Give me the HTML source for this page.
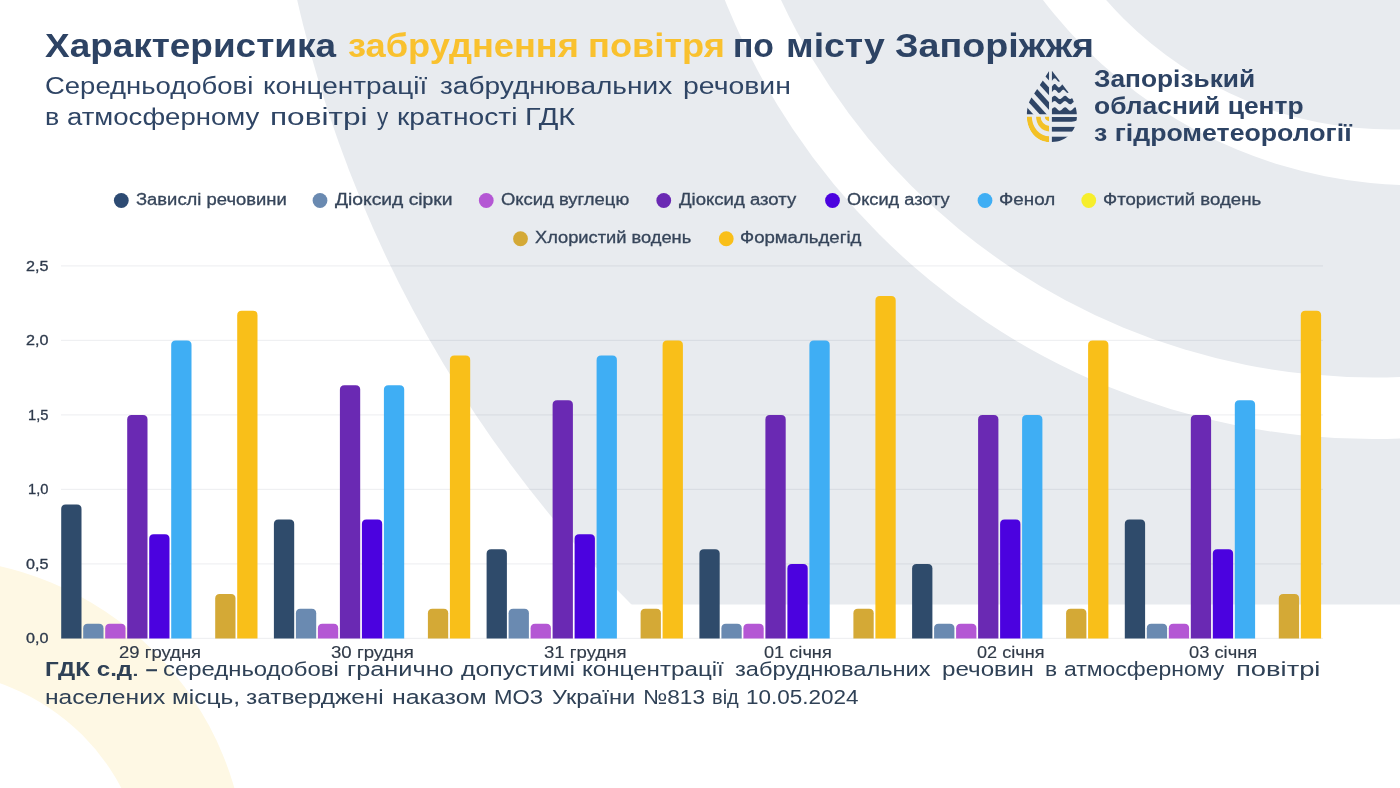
<!DOCTYPE html>
<html lang="uk"><head><meta charset="utf-8"><title>Характеристика забруднення повітря по місту Запоріжжя</title>
<style>
html,body{margin:0;padding:0}
body{width:1400px;height:788px;overflow:hidden;background:#fff;position:relative;font-family:"Liberation Sans",sans-serif}
#bg{position:absolute;left:0;top:0}
.t{position:absolute;white-space:pre;line-height:1;transform-origin:0 0}
</style></head><body>

<svg id="bg" width="1400" height="788" viewBox="0 0 1400 788">
<defs><clipPath id="cg"><rect x="0" y="0" width="1400" height="604.6"/></clipPath></defs>
<circle cx="-70.3" cy="875.2" r="316.9" fill="#fef8e4"/>
<circle cx="-72.4" cy="889.9" r="218.9" fill="#fff"/>
<g clip-path="url(#cg)">
<circle cx="1512" cy="-277" r="1246" fill="#e8ebef"/>
<circle cx="1373" cy="-259" r="698" fill="#fff"/>
<circle cx="1374" cy="-277" r="654.5" fill="#e8ebef"/>
<circle cx="1416.4" cy="-283.6" r="468.9" fill="#fff"/>
<circle cx="1392.1" cy="-250.7" r="380.3" fill="#e8ebef"/>
</g>
<rect x="61" y="265.3" width="1262" height="1.2" fill="rgba(40,55,80,0.075)"/>
<rect x="61" y="339.8" width="1262" height="1.2" fill="rgba(40,55,80,0.075)"/>
<rect x="61" y="414.3" width="1262" height="1.2" fill="rgba(40,55,80,0.075)"/>
<rect x="61" y="488.8" width="1262" height="1.2" fill="rgba(40,55,80,0.075)"/>
<rect x="61" y="563.3" width="1262" height="1.2" fill="rgba(40,55,80,0.075)"/>
<rect x="61" y="637.8" width="1262" height="1.2" fill="rgba(40,55,80,0.075)"/>
<path d="M61.2 638.6V509.0q0 -4.5 4.5 -4.5h11.3q4.5 0 4.5 4.5V638.6z" fill="#2f4b6b" stroke="none" stroke-width="1"/>
<path d="M83.2 638.6V628.2q0 -4.5 4.5 -4.5h11.3q4.5 0 4.5 4.5V638.6z" fill="#6a8ab1" stroke="none" stroke-width="1"/>
<path d="M105.2 638.6V628.2q0 -4.5 4.5 -4.5h11.3q4.5 0 4.5 4.5V638.6z" fill="#b457d4" stroke="none" stroke-width="1"/>
<path d="M127.2 638.6V419.6q0 -4.5 4.5 -4.5h11.3q4.5 0 4.5 4.5V638.6z" fill="#6a29b3" stroke="none" stroke-width="1"/>
<path d="M149.2 638.6V538.8q0 -4.5 4.5 -4.5h11.3q4.5 0 4.5 4.5V638.6z" fill="#4b02df" stroke="none" stroke-width="1"/>
<path d="M171.2 638.6V345.1q0 -4.5 4.5 -4.5h11.3q4.5 0 4.5 4.5V638.6z" fill="#3faef4" stroke="none" stroke-width="1"/>
<path d="M215.2 638.6V598.4q0 -4.5 4.5 -4.5h11.3q4.5 0 4.5 4.5V638.6z" fill="#d4a936" stroke="none" stroke-width="1"/>
<path d="M237.2 638.6V315.3q0 -4.5 4.5 -4.5h11.3q4.5 0 4.5 4.5V638.6z" fill="#f9bf19" stroke="none" stroke-width="1"/>
<path d="M273.9 638.6V523.9q0 -4.5 4.5 -4.5h11.3q4.5 0 4.5 4.5V638.6z" fill="#2f4b6b" stroke="none" stroke-width="1"/>
<path d="M295.9 638.6V613.3q0 -4.5 4.5 -4.5h11.3q4.5 0 4.5 4.5V638.6z" fill="#6a8ab1" stroke="none" stroke-width="1"/>
<path d="M317.9 638.6V628.2q0 -4.5 4.5 -4.5h11.3q4.5 0 4.5 4.5V638.6z" fill="#b457d4" stroke="none" stroke-width="1"/>
<path d="M339.9 638.6V389.8q0 -4.5 4.5 -4.5h11.3q4.5 0 4.5 4.5V638.6z" fill="#6a29b3" stroke="none" stroke-width="1"/>
<path d="M361.9 638.6V523.9q0 -4.5 4.5 -4.5h11.3q4.5 0 4.5 4.5V638.6z" fill="#4b02df" stroke="none" stroke-width="1"/>
<path d="M383.9 638.6V389.8q0 -4.5 4.5 -4.5h11.3q4.5 0 4.5 4.5V638.6z" fill="#3faef4" stroke="none" stroke-width="1"/>
<path d="M427.9 638.6V613.3q0 -4.5 4.5 -4.5h11.3q4.5 0 4.5 4.5V638.6z" fill="#d4a936" stroke="none" stroke-width="1"/>
<path d="M449.9 638.6V360.0q0 -4.5 4.5 -4.5h11.3q4.5 0 4.5 4.5V638.6z" fill="#f9bf19" stroke="none" stroke-width="1"/>
<path d="M486.6 638.6V553.7q0 -4.5 4.5 -4.5h11.3q4.5 0 4.5 4.5V638.6z" fill="#2f4b6b" stroke="none" stroke-width="1"/>
<path d="M508.6 638.6V613.3q0 -4.5 4.5 -4.5h11.3q4.5 0 4.5 4.5V638.6z" fill="#6a8ab1" stroke="none" stroke-width="1"/>
<path d="M530.6 638.6V628.2q0 -4.5 4.5 -4.5h11.3q4.5 0 4.5 4.5V638.6z" fill="#b457d4" stroke="none" stroke-width="1"/>
<path d="M552.6 638.6V404.7q0 -4.5 4.5 -4.5h11.3q4.5 0 4.5 4.5V638.6z" fill="#6a29b3" stroke="none" stroke-width="1"/>
<path d="M574.6 638.6V538.8q0 -4.5 4.5 -4.5h11.3q4.5 0 4.5 4.5V638.6z" fill="#4b02df" stroke="none" stroke-width="1"/>
<path d="M596.6 638.6V360.0q0 -4.5 4.5 -4.5h11.3q4.5 0 4.5 4.5V638.6z" fill="#3faef4" stroke="none" stroke-width="1"/>
<path d="M640.6 638.6V613.3q0 -4.5 4.5 -4.5h11.3q4.5 0 4.5 4.5V638.6z" fill="#d4a936" stroke="none" stroke-width="1"/>
<path d="M662.6 638.6V345.1q0 -4.5 4.5 -4.5h11.3q4.5 0 4.5 4.5V638.6z" fill="#f9bf19" stroke="none" stroke-width="1"/>
<path d="M699.4 638.6V553.7q0 -4.5 4.5 -4.5h11.3q4.5 0 4.5 4.5V638.6z" fill="#2f4b6b" stroke="none" stroke-width="1"/>
<path d="M721.4 638.6V628.2q0 -4.5 4.5 -4.5h11.3q4.5 0 4.5 4.5V638.6z" fill="#6a8ab1" stroke="none" stroke-width="1"/>
<path d="M743.4 638.6V628.2q0 -4.5 4.5 -4.5h11.3q4.5 0 4.5 4.5V638.6z" fill="#b457d4" stroke="none" stroke-width="1"/>
<path d="M765.4 638.6V419.6q0 -4.5 4.5 -4.5h11.3q4.5 0 4.5 4.5V638.6z" fill="#6a29b3" stroke="none" stroke-width="1"/>
<path d="M787.4 638.6V568.6q0 -4.5 4.5 -4.5h11.3q4.5 0 4.5 4.5V638.6z" fill="#4b02df" stroke="none" stroke-width="1"/>
<path d="M809.4 638.6V345.1q0 -4.5 4.5 -4.5h11.3q4.5 0 4.5 4.5V638.6z" fill="#3faef4" stroke="none" stroke-width="1"/>
<path d="M853.4 638.6V613.3q0 -4.5 4.5 -4.5h11.3q4.5 0 4.5 4.5V638.6z" fill="#d4a936" stroke="none" stroke-width="1"/>
<path d="M875.4 638.6V300.4q0 -4.5 4.5 -4.5h11.3q4.5 0 4.5 4.5V638.6z" fill="#f9bf19" stroke="none" stroke-width="1"/>
<path d="M912.1 638.6V568.6q0 -4.5 4.5 -4.5h11.3q4.5 0 4.5 4.5V638.6z" fill="#2f4b6b" stroke="none" stroke-width="1"/>
<path d="M934.1 638.6V628.2q0 -4.5 4.5 -4.5h11.3q4.5 0 4.5 4.5V638.6z" fill="#6a8ab1" stroke="none" stroke-width="1"/>
<path d="M956.1 638.6V628.2q0 -4.5 4.5 -4.5h11.3q4.5 0 4.5 4.5V638.6z" fill="#b457d4" stroke="none" stroke-width="1"/>
<path d="M978.1 638.6V419.6q0 -4.5 4.5 -4.5h11.3q4.5 0 4.5 4.5V638.6z" fill="#6a29b3" stroke="none" stroke-width="1"/>
<path d="M1000.1 638.6V523.9q0 -4.5 4.5 -4.5h11.3q4.5 0 4.5 4.5V638.6z" fill="#4b02df" stroke="none" stroke-width="1"/>
<path d="M1022.1 638.6V419.6q0 -4.5 4.5 -4.5h11.3q4.5 0 4.5 4.5V638.6z" fill="#3faef4" stroke="none" stroke-width="1"/>
<path d="M1066.1 638.6V613.3q0 -4.5 4.5 -4.5h11.3q4.5 0 4.5 4.5V638.6z" fill="#d4a936" stroke="none" stroke-width="1"/>
<path d="M1088.1 638.6V345.1q0 -4.5 4.5 -4.5h11.3q4.5 0 4.5 4.5V638.6z" fill="#f9bf19" stroke="none" stroke-width="1"/>
<path d="M1124.8 638.6V523.9q0 -4.5 4.5 -4.5h11.3q4.5 0 4.5 4.5V638.6z" fill="#2f4b6b" stroke="none" stroke-width="1"/>
<path d="M1146.8 638.6V628.2q0 -4.5 4.5 -4.5h11.3q4.5 0 4.5 4.5V638.6z" fill="#6a8ab1" stroke="none" stroke-width="1"/>
<path d="M1168.8 638.6V628.2q0 -4.5 4.5 -4.5h11.3q4.5 0 4.5 4.5V638.6z" fill="#b457d4" stroke="none" stroke-width="1"/>
<path d="M1190.8 638.6V419.6q0 -4.5 4.5 -4.5h11.3q4.5 0 4.5 4.5V638.6z" fill="#6a29b3" stroke="none" stroke-width="1"/>
<path d="M1212.8 638.6V553.7q0 -4.5 4.5 -4.5h11.3q4.5 0 4.5 4.5V638.6z" fill="#4b02df" stroke="none" stroke-width="1"/>
<path d="M1234.8 638.6V404.7q0 -4.5 4.5 -4.5h11.3q4.5 0 4.5 4.5V638.6z" fill="#3faef4" stroke="none" stroke-width="1"/>
<path d="M1278.8 638.6V598.4q0 -4.5 4.5 -4.5h11.3q4.5 0 4.5 4.5V638.6z" fill="#d4a936" stroke="none" stroke-width="1"/>
<path d="M1300.8 638.6V315.3q0 -4.5 4.5 -4.5h11.3q4.5 0 4.5 4.5V638.6z" fill="#f9bf19" stroke="none" stroke-width="1"/>
<circle cx="121.30" cy="200.5" r="7.4" fill="#2d4b73"/>
<circle cx="320.00" cy="200.5" r="7.4" fill="#6a8ab1"/>
<circle cx="486.25" cy="200.5" r="7.4" fill="#b457d4"/>
<circle cx="663.75" cy="200.5" r="7.4" fill="#6a29b3"/>
<circle cx="832.50" cy="200.5" r="7.4" fill="#4b02df"/>
<circle cx="985.00" cy="200.5" r="7.4" fill="#3faef4"/>
<circle cx="1088.75" cy="200.5" r="7.4" fill="#f6ee2c"/>
<circle cx="520.50" cy="238.75" r="7.4" fill="#d4a936"/>
<circle cx="726.25" cy="238.75" r="7.4" fill="#f9bf19"/>
<g id="logo">
<defs>
<clipPath id="lL"><path d="M1049.3 70.7 L1031.2 97.9 C1029 101.2 1026.9 108 1026.9 114.2 V116.4 C1026.9 131 1037 142 1049.3 142 Z"/></clipPath>
<clipPath id="lR"><path d="M1051.9 70.7 L1068.5 92.4 C1072 97 1076.9 106 1076.9 116 C1076.9 131 1066 142 1051.9 142 Z"/></clipPath>
<clipPath id="lLT"><rect x="1020" y="60" width="29.299999999999955" height="54.2"/></clipPath>
<clipPath id="lLB"><rect x="1020" y="116.4" width="29.299999999999955" height="30"/></clipPath>
</defs>
<g clip-path="url(#lL)"><g clip-path="url(#lLT)" fill="#2f4566">
<path d="M1049.3 55.00 L1009.3 11.00 L1009.3 36.80 L1049.3 80.80 Z"/>
<path d="M1049.3 87.80 L1009.3 43.80 L1009.3 51.50 L1049.3 95.50 Z"/>
<path d="M1049.3 102.50 L1009.3 58.50 L1009.3 66.20 L1049.3 110.20 Z"/>
<path d="M1049.3 117.20 L1009.3 73.20 L1009.3 80.90 L1049.3 124.90 Z"/>
<path d="M1049.3 131.90 L1009.3 87.90 L1009.3 95.60 L1049.3 139.60 Z"/>
</g>
<g clip-path="url(#lLB)" fill="#f3c126">
<path d="M1026.70 116.4 A22.6 25.8 0 0 0 1049.3 142.20 L1049.3 136.20 A17.5 19.8 0 0 1 1031.80 116.4 Z"/>
<path d="M1036.10 116.4 A13.2 15.0 0 0 0 1049.3 131.40 L1049.3 125.90 A8.7 9.5 0 0 1 1040.60 116.4 Z"/>
<path d="M1044.80 116.4 A4.5 4.9 0 0 0 1049.3 121.30 L1049.3 116.4 Z"/>
</g></g>
<g clip-path="url(#lR)" fill="#2f4566">
<path d="M1051.40 60.00 L1051.90 60.00 L1052.40 60.00 L1052.90 60.00 L1053.40 60.00 L1053.90 60.00 L1054.40 60.00 L1054.90 60.00 L1055.40 60.00 L1055.90 60.00 L1056.40 60.00 L1056.90 60.00 L1057.40 60.00 L1057.90 60.00 L1058.40 60.00 L1058.90 60.00 L1059.40 60.00 L1059.90 60.00 L1060.40 60.00 L1060.90 60.00 L1061.40 60.00 L1061.90 60.00 L1062.40 60.00 L1062.90 60.00 L1063.40 60.00 L1063.90 60.00 L1064.40 60.00 L1064.90 60.00 L1065.40 60.00 L1065.90 60.00 L1066.40 60.00 L1066.90 60.00 L1067.40 60.00 L1067.90 60.00 L1068.40 60.00 L1068.90 60.00 L1069.40 60.00 L1069.90 60.00 L1070.40 60.00 L1070.90 60.00 L1071.40 60.00 L1071.90 60.00 L1072.40 60.00 L1072.90 60.00 L1073.40 60.00 L1073.90 60.00 L1074.40 60.00 L1074.90 60.00 L1075.40 60.00 L1075.90 60.00 L1076.40 60.00 L1076.90 60.00 L1077.40 60.00 L1077.90 60.00 L1078.40 60.00 L1078.90 60.00 L1079.40 60.00 L1079.90 60.00 L1080.40 60.00 L1080.90 60.00 L1080.90 78.42 L1080.40 78.35 L1079.90 78.51 L1079.40 78.85 L1078.90 79.35 L1078.40 79.94 L1077.90 80.53 L1077.40 81.06 L1076.90 81.44 L1076.40 81.63 L1075.90 81.61 L1075.40 81.38 L1074.90 80.96 L1074.40 80.42 L1073.90 79.82 L1073.40 79.25 L1072.90 78.77 L1072.40 78.46 L1071.90 78.35 L1071.40 78.46 L1070.90 78.77 L1070.40 79.25 L1069.90 79.82 L1069.40 80.42 L1068.90 80.96 L1068.40 81.38 L1067.90 81.61 L1067.40 81.63 L1066.90 81.44 L1066.40 81.06 L1065.90 80.53 L1065.40 79.94 L1064.90 79.35 L1064.40 78.85 L1063.90 78.51 L1063.40 78.35 L1062.90 78.42 L1062.40 78.69 L1061.90 79.14 L1061.40 79.70 L1060.90 80.30 L1060.40 80.86 L1059.90 81.31 L1059.40 81.58 L1058.90 81.65 L1058.40 81.49 L1057.90 81.15 L1057.40 80.65 L1056.90 80.06 L1056.40 79.47 L1055.90 78.94 L1055.40 78.56 L1054.90 78.37 L1054.40 78.39 L1053.90 78.62 L1053.40 79.04 L1052.90 79.58 L1052.40 80.18 L1051.90 80.75 L1051.40 81.23 Z"/>
<path d="M1051.40 86.97 L1051.90 86.48 L1052.40 85.89 L1052.90 85.27 L1053.40 84.71 L1053.90 84.28 L1054.40 84.04 L1054.90 84.02 L1055.40 84.22 L1055.90 84.61 L1056.40 85.15 L1056.90 85.76 L1057.40 86.36 L1057.90 86.88 L1058.40 87.24 L1058.90 87.40 L1059.40 87.33 L1059.90 87.05 L1060.40 86.59 L1060.90 86.01 L1061.40 85.39 L1061.90 84.81 L1062.40 84.35 L1062.90 84.07 L1063.40 84.00 L1063.90 84.16 L1064.40 84.52 L1064.90 85.04 L1065.40 85.64 L1065.90 86.25 L1066.40 86.79 L1066.90 87.18 L1067.40 87.38 L1067.90 87.36 L1068.40 87.12 L1068.90 86.69 L1069.40 86.13 L1069.90 85.51 L1070.40 84.92 L1070.90 84.43 L1071.40 84.11 L1071.90 84.00 L1072.40 84.11 L1072.90 84.43 L1073.40 84.92 L1073.90 85.51 L1074.40 86.13 L1074.90 86.69 L1075.40 87.12 L1075.90 87.36 L1076.40 87.38 L1076.90 87.18 L1077.40 86.79 L1077.90 86.25 L1078.40 85.64 L1078.90 85.04 L1079.40 84.52 L1079.90 84.16 L1080.40 84.00 L1080.90 84.07 L1080.90 89.77 L1080.40 89.70 L1079.90 89.85 L1079.40 90.19 L1078.90 90.67 L1078.40 91.24 L1077.90 91.82 L1077.40 92.32 L1076.90 92.70 L1076.40 92.88 L1075.90 92.86 L1075.40 92.63 L1074.90 92.23 L1074.40 91.70 L1073.90 91.13 L1073.40 90.57 L1072.90 90.11 L1072.40 89.81 L1071.90 89.70 L1071.40 89.81 L1070.90 90.11 L1070.40 90.57 L1069.90 91.13 L1069.40 91.70 L1068.90 92.23 L1068.40 92.63 L1067.90 92.86 L1067.40 92.88 L1066.90 92.70 L1066.40 92.32 L1065.90 91.82 L1065.40 91.24 L1064.90 90.67 L1064.40 90.19 L1063.90 89.85 L1063.40 89.70 L1062.90 89.77 L1062.40 90.03 L1061.90 90.47 L1061.40 91.01 L1060.90 91.59 L1060.40 92.13 L1059.90 92.57 L1059.40 92.83 L1058.90 92.90 L1058.40 92.75 L1057.90 92.41 L1057.40 91.93 L1056.90 91.36 L1056.40 90.78 L1055.90 90.28 L1055.40 89.90 L1054.90 89.72 L1054.40 89.74 L1053.90 89.97 L1053.40 90.37 L1052.90 90.90 L1052.40 91.47 L1051.90 92.03 L1051.40 92.49 Z"/>
<path d="M1051.40 97.97 L1051.90 97.50 L1052.40 97.02 L1052.90 96.57 L1053.40 96.20 L1053.90 95.94 L1054.40 95.81 L1054.90 95.83 L1055.40 95.98 L1055.90 96.27 L1056.40 96.66 L1056.90 97.11 L1057.40 97.59 L1057.90 98.06 L1058.40 98.46 L1058.90 98.77 L1059.40 98.95 L1059.90 99.00 L1060.40 98.90 L1060.90 98.66 L1061.40 98.31 L1061.90 97.88 L1062.40 97.40 L1062.90 96.92 L1063.40 96.49 L1063.90 96.14 L1064.40 95.90 L1064.90 95.80 L1065.40 95.85 L1065.90 96.03 L1066.40 96.34 L1066.90 96.74 L1067.40 97.21 L1067.90 97.69 L1068.40 98.14 L1068.90 98.53 L1069.40 98.82 L1069.90 98.97 L1070.40 98.99 L1070.90 98.86 L1071.40 98.60 L1071.90 98.23 L1072.40 97.78 L1072.90 97.30 L1073.40 96.83 L1073.90 96.41 L1074.40 96.08 L1074.90 95.87 L1075.40 95.80 L1075.90 95.87 L1076.40 96.08 L1076.90 96.41 L1077.40 96.83 L1077.90 97.30 L1078.40 97.78 L1078.90 98.23 L1079.40 98.60 L1079.90 98.86 L1080.40 98.99 L1080.90 98.97 L1080.90 104.27 L1080.40 104.29 L1079.90 104.16 L1079.40 103.90 L1078.90 103.53 L1078.40 103.08 L1077.90 102.60 L1077.40 102.13 L1076.90 101.71 L1076.40 101.38 L1075.90 101.17 L1075.40 101.10 L1074.90 101.17 L1074.40 101.38 L1073.90 101.71 L1073.40 102.13 L1072.90 102.60 L1072.40 103.08 L1071.90 103.53 L1071.40 103.90 L1070.90 104.16 L1070.40 104.29 L1069.90 104.27 L1069.40 104.12 L1068.90 103.83 L1068.40 103.44 L1067.90 102.99 L1067.40 102.51 L1066.90 102.04 L1066.40 101.64 L1065.90 101.33 L1065.40 101.15 L1064.90 101.10 L1064.40 101.20 L1063.90 101.44 L1063.40 101.79 L1062.90 102.22 L1062.40 102.70 L1061.90 103.18 L1061.40 103.61 L1060.90 103.96 L1060.40 104.20 L1059.90 104.30 L1059.40 104.25 L1058.90 104.07 L1058.40 103.76 L1057.90 103.36 L1057.40 102.89 L1056.90 102.41 L1056.40 101.96 L1055.90 101.57 L1055.40 101.28 L1054.90 101.13 L1054.40 101.11 L1053.90 101.24 L1053.40 101.50 L1052.90 101.87 L1052.40 102.32 L1051.90 102.80 L1051.40 103.27 Z"/>
<path d="M1051.40 109.60 L1051.90 109.10 L1052.40 108.59 L1052.90 108.12 L1053.40 107.73 L1053.90 107.45 L1054.40 107.31 L1054.90 107.33 L1055.40 107.49 L1055.90 107.80 L1056.40 108.21 L1056.90 108.69 L1057.40 109.20 L1057.90 109.70 L1058.40 110.13 L1058.90 110.45 L1059.40 110.65 L1059.90 110.70 L1060.40 110.59 L1060.90 110.34 L1061.40 109.97 L1061.90 109.51 L1062.40 109.00 L1062.90 108.49 L1063.40 108.03 L1063.90 107.66 L1064.40 107.41 L1064.90 107.30 L1065.40 107.35 L1065.90 107.55 L1066.40 107.87 L1066.90 108.30 L1067.40 108.80 L1067.90 109.31 L1068.40 109.79 L1068.90 110.20 L1069.40 110.51 L1069.90 110.67 L1070.40 110.69 L1070.90 110.55 L1071.40 110.27 L1071.90 109.88 L1072.40 109.41 L1072.90 108.90 L1073.40 108.40 L1073.90 107.95 L1074.40 107.60 L1074.90 107.38 L1075.40 107.30 L1075.90 107.38 L1076.40 107.60 L1076.90 107.95 L1077.40 108.40 L1077.90 108.90 L1078.40 109.41 L1078.90 109.88 L1079.40 110.27 L1079.90 110.55 L1080.40 110.69 L1080.90 110.67 L1080.90 114.20 L1080.40 114.20 L1079.90 114.20 L1079.40 114.20 L1078.90 114.20 L1078.40 114.20 L1077.90 114.20 L1077.40 114.20 L1076.90 114.20 L1076.40 114.20 L1075.90 114.20 L1075.40 114.20 L1074.90 114.20 L1074.40 114.20 L1073.90 114.20 L1073.40 114.20 L1072.90 114.20 L1072.40 114.20 L1071.90 114.20 L1071.40 114.20 L1070.90 114.20 L1070.40 114.20 L1069.90 114.20 L1069.40 114.20 L1068.90 114.20 L1068.40 114.20 L1067.90 114.20 L1067.40 114.20 L1066.90 114.20 L1066.40 114.20 L1065.90 114.20 L1065.40 114.20 L1064.90 114.20 L1064.40 114.20 L1063.90 114.20 L1063.40 114.20 L1062.90 114.20 L1062.40 114.20 L1061.90 114.20 L1061.40 114.20 L1060.90 114.20 L1060.40 114.20 L1059.90 114.20 L1059.40 114.20 L1058.90 114.20 L1058.40 114.20 L1057.90 114.20 L1057.40 114.20 L1056.90 114.20 L1056.40 114.20 L1055.90 114.20 L1055.40 114.20 L1054.90 114.20 L1054.40 114.20 L1053.90 114.20 L1053.40 114.20 L1052.90 114.20 L1052.40 114.20 L1051.90 114.20 L1051.40 114.20 Z"/>
<path d="M1050.9 117.1 H1080 V117.5 Q1078 121.7 1071.5 121.7 H1050.9 Z"/>
<rect x="1050.9" y="126.9" width="30" height="4.7"/>
<rect x="1050.9" y="136.7" width="30" height="6"/>
</g>
</g>
</svg>
<div id="tx" style="position:absolute;left:0;top:0;will-change:transform">
<div class="t" style="left:45px;top:29px;font-size:33.72px;font-weight:700;color:#2d4364;transform:scaleX(1.0951)">Характеристика</div>
<div class="t" style="left:348px;top:29px;font-size:33.72px;font-weight:700;color:#f9c12e;transform:scaleX(1.0740)">забруднення</div>
<div class="t" style="left:588px;top:29px;font-size:33.72px;font-weight:700;color:#f9c12e;transform:scaleX(1.0745)">повітря</div>
<div class="t" style="left:733px;top:29px;font-size:33.72px;font-weight:700;color:#2d4364;transform:scaleX(0.9989)">по</div>
<div class="t" style="left:786px;top:29px;font-size:33.72px;font-weight:700;color:#2d4364;transform:scaleX(1.1084)">місту</div>
<div class="t" style="left:895px;top:29px;font-size:33.72px;font-weight:700;color:#2d4364;transform:scaleX(1.1166)">Запоріжжя</div>
<div class="t" style="left:45px;top:74px;font-size:24.09px;font-weight:400;color:#2f4565;transform:scaleX(1.1410)">Середньодобові</div>
<div class="t" style="left:263px;top:74px;font-size:24.09px;font-weight:400;color:#2f4565;transform:scaleX(1.1614)">концентрації</div>
<div class="t" style="left:440px;top:74px;font-size:24.09px;font-weight:400;color:#2f4565;transform:scaleX(1.1651)">забруднювальних</div>
<div class="t" style="left:683px;top:74px;font-size:24.09px;font-weight:400;color:#2f4565;transform:scaleX(1.1797)">речовин</div>
<div class="t" style="left:45px;top:105px;font-size:24.09px;font-weight:400;color:#2f4565;transform:scaleX(1.1147)">в</div>
<div class="t" style="left:67px;top:105px;font-size:24.09px;font-weight:400;color:#2f4565;transform:scaleX(1.1444)">атмосферному</div>
<div class="t" style="left:270px;top:105px;font-size:24.09px;font-weight:400;color:#2f4565;transform:scaleX(1.3133)">повітрі</div>
<div class="t" style="left:377px;top:105px;font-size:24.09px;font-weight:400;color:#2f4565;transform:scaleX(0.9344)">у</div>
<div class="t" style="left:397px;top:105px;font-size:24.09px;font-weight:400;color:#2f4565;transform:scaleX(1.1705)">кратності</div>
<div class="t" style="left:525px;top:105px;font-size:24.09px;font-weight:400;color:#2f4565;transform:scaleX(1.2017)">ГДК</div>
<div class="t" style="left:1094px;top:67px;font-size:23.80px;font-weight:700;color:#2d4364;transform:scaleX(1.1051)">Запорізький</div>
<div class="t" style="left:1094px;top:94px;font-size:23.80px;font-weight:700;color:#2d4364;transform:scaleX(1.1094)">обласний центр</div>
<div class="t" style="left:1094px;top:121px;font-size:23.80px;font-weight:700;color:#2d4364;transform:scaleX(1.1211)">з гідрометеорології</div>
<div class="t" style="left:136px;top:192px;font-size:15.77px;font-weight:400;color:#36455a;transform:scaleX(1.1669);-webkit-text-stroke:0.3px #36455a">Завислі речовини</div>
<div class="t" style="left:335px;top:192px;font-size:15.77px;font-weight:400;color:#36455a;transform:scaleX(1.2222);-webkit-text-stroke:0.3px #36455a">Діоксид сірки</div>
<div class="t" style="left:501px;top:192px;font-size:15.77px;font-weight:400;color:#36455a;transform:scaleX(1.1682);-webkit-text-stroke:0.3px #36455a">Оксид вуглецю</div>
<div class="t" style="left:679px;top:192px;font-size:15.77px;font-weight:400;color:#36455a;transform:scaleX(1.1768);-webkit-text-stroke:0.3px #36455a">Діоксид азоту</div>
<div class="t" style="left:847px;top:192px;font-size:15.77px;font-weight:400;color:#36455a;transform:scaleX(1.1543);-webkit-text-stroke:0.3px #36455a">Оксид азоту</div>
<div class="t" style="left:999px;top:192px;font-size:15.77px;font-weight:400;color:#36455a;transform:scaleX(1.1923);-webkit-text-stroke:0.3px #36455a">Фенол</div>
<div class="t" style="left:1103px;top:192px;font-size:15.77px;font-weight:400;color:#36455a;transform:scaleX(1.1800);-webkit-text-stroke:0.3px #36455a">Фтористий водень</div>
<div class="t" style="left:535px;top:230px;font-size:15.77px;font-weight:400;color:#36455a;transform:scaleX(1.1582);-webkit-text-stroke:0.3px #36455a">Хлористий водень</div>
<div class="t" style="left:740px;top:230px;font-size:15.77px;font-weight:400;color:#36455a;transform:scaleX(1.1794);-webkit-text-stroke:0.3px #36455a">Формальдегід</div>
<div class="t" style="left:26px;top:259px;font-size:14.01px;font-weight:400;color:#2e3a4c;transform:scaleX(1.1546);-webkit-text-stroke:0.3px #2e3a4c">2,5</div>
<div class="t" style="left:26px;top:333px;font-size:14.01px;font-weight:400;color:#2e3a4c;transform:scaleX(1.1531);-webkit-text-stroke:0.3px #2e3a4c">2,0</div>
<div class="t" style="left:28px;top:408px;font-size:14.01px;font-weight:400;color:#2e3a4c;transform:scaleX(1.0496);-webkit-text-stroke:0.3px #2e3a4c">1,5</div>
<div class="t" style="left:28px;top:482px;font-size:14.01px;font-weight:400;color:#2e3a4c;transform:scaleX(1.0483);-webkit-text-stroke:0.3px #2e3a4c">1,0</div>
<div class="t" style="left:26px;top:557px;font-size:14.01px;font-weight:400;color:#2e3a4c;transform:scaleX(1.1546);-webkit-text-stroke:0.3px #2e3a4c">0,5</div>
<div class="t" style="left:26px;top:631px;font-size:14.01px;font-weight:400;color:#2e3a4c;transform:scaleX(1.1531);-webkit-text-stroke:0.3px #2e3a4c">0,0</div>
<div class="t" style="left:119px;top:645px;font-size:15.91px;font-weight:400;color:#303a48;transform:scaleX(1.1612);-webkit-text-stroke:0.15px #303a48">29 грудня</div>
<div class="t" style="left:331px;top:645px;font-size:15.91px;font-weight:400;color:#303a48;transform:scaleX(1.1716);-webkit-text-stroke:0.15px #303a48">30 грудня</div>
<div class="t" style="left:544px;top:645px;font-size:15.91px;font-weight:400;color:#303a48;transform:scaleX(1.1676);-webkit-text-stroke:0.15px #303a48">31 грудня</div>
<div class="t" style="left:764px;top:645px;font-size:15.91px;font-weight:400;color:#303a48;transform:scaleX(1.1428);-webkit-text-stroke:0.15px #303a48">01 січня</div>
<div class="t" style="left:977px;top:645px;font-size:15.91px;font-weight:400;color:#303a48;transform:scaleX(1.1380);-webkit-text-stroke:0.15px #303a48">02 січня</div>
<div class="t" style="left:1189px;top:645px;font-size:15.91px;font-weight:400;color:#303a48;transform:scaleX(1.1504);-webkit-text-stroke:0.15px #303a48">03 січня</div>
<div class="t" style="left:45px;top:659px;font-size:20.44px;font-weight:700;color:#2f4156;transform:scaleX(1.1808)">ГДК с.д</div>
<div class="t" style="left:131px;top:659px;font-size:20.44px;font-weight:400;color:#2f4156;transform:scaleX(1.5575)">.</div>
<div class="t" style="left:145px;top:659px;font-size:20.44px;font-weight:400;color:#2f4156;transform:scaleX(1.9540);-webkit-text-stroke:0.5px #2f4156">-</div>
<div class="t" style="left:163px;top:659px;font-size:20.44px;font-weight:400;color:#2f4156;transform:scaleX(1.1686)">середньодобові</div>
<div class="t" style="left:347px;top:659px;font-size:20.44px;font-weight:400;color:#2f4156;transform:scaleX(1.2378)">гранично</div>
<div class="t" style="left:461px;top:659px;font-size:20.44px;font-weight:400;color:#2f4156;transform:scaleX(1.2144)">допустимі</div>
<div class="t" style="left:582px;top:659px;font-size:20.44px;font-weight:400;color:#2f4156;transform:scaleX(1.1819)">концентрації</div>
<div class="t" style="left:735px;top:659px;font-size:20.44px;font-weight:400;color:#2f4156;transform:scaleX(1.1563)">забруднювальних</div>
<div class="t" style="left:942px;top:659px;font-size:20.44px;font-weight:400;color:#2f4156;transform:scaleX(1.1823)">речовин</div>
<div class="t" style="left:1045px;top:659px;font-size:20.44px;font-weight:400;color:#2f4156;transform:scaleX(1.1158)">в</div>
<div class="t" style="left:1064px;top:659px;font-size:20.44px;font-weight:400;color:#2f4156;transform:scaleX(1.1230)">атмосферному</div>
<div class="t" style="left:1236px;top:659px;font-size:20.44px;font-weight:400;color:#2f4156;transform:scaleX(1.3384)">повітрі</div>
<div class="t" style="left:45px;top:687px;font-size:20.44px;font-weight:400;color:#2f4156;transform:scaleX(1.2051)">населених</div>
<div class="t" style="left:172px;top:687px;font-size:20.44px;font-weight:400;color:#2f4156;transform:scaleX(1.1980)">місць,</div>
<div class="t" style="left:246px;top:687px;font-size:20.44px;font-weight:400;color:#2f4156;transform:scaleX(1.1941)">затверджені</div>
<div class="t" style="left:392px;top:687px;font-size:20.44px;font-weight:400;color:#2f4156;transform:scaleX(1.2175)">наказом</div>
<div class="t" style="left:494px;top:687px;font-size:20.44px;font-weight:400;color:#2f4156;transform:scaleX(1.0840)">МОЗ</div>
<div class="t" style="left:552px;top:687px;font-size:20.44px;font-weight:400;color:#2f4156;transform:scaleX(1.1522)">України</div>
<div class="t" style="left:643px;top:687px;font-size:20.44px;font-weight:400;color:#2f4156;transform:scaleX(1.1065)">№813</div>
<div class="t" style="left:712px;top:687px;font-size:20.44px;font-weight:400;color:#2f4156;transform:scaleX(0.9786)">від</div>
<div class="t" style="left:746px;top:687px;font-size:20.44px;font-weight:400;color:#2f4156;transform:scaleX(1.1008)">10.05.2024</div>
</div>
</body></html>
